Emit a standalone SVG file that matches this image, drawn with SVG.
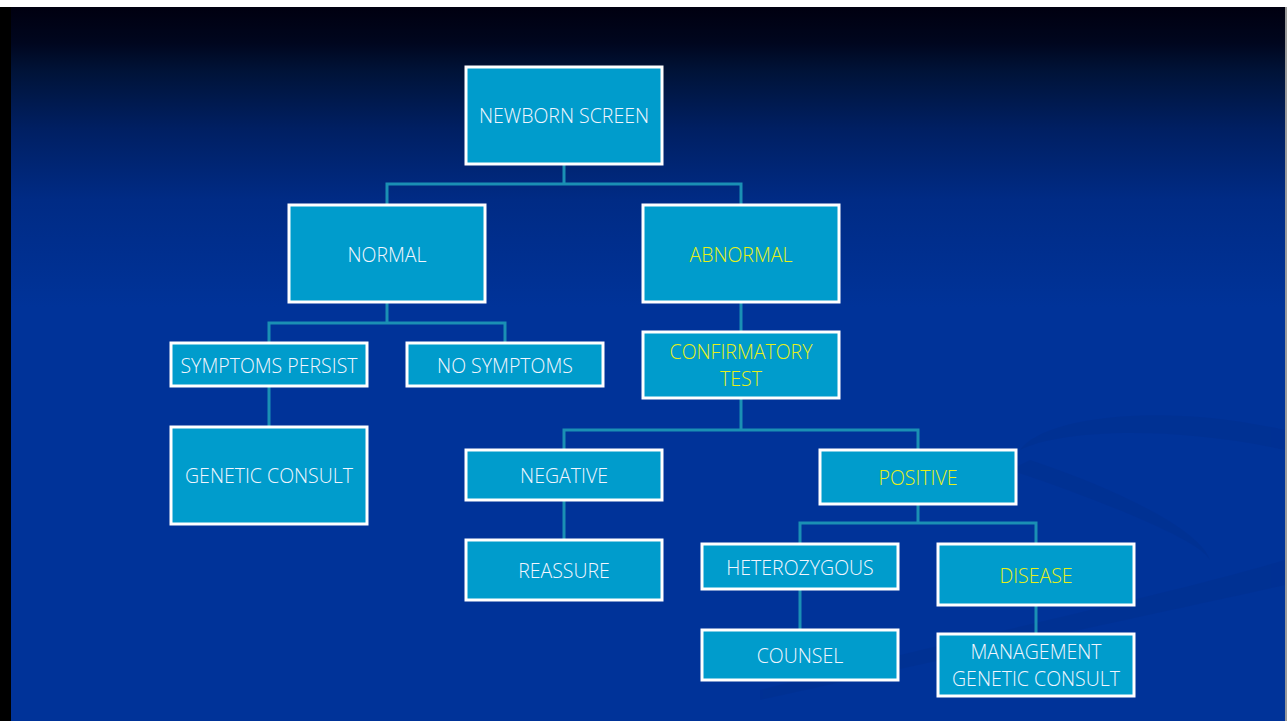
<svg xmlns="http://www.w3.org/2000/svg" width="1287" height="721" viewBox="0 0 1287 721">
<defs>
<linearGradient id="bg" x1="0" y1="7" x2="0" y2="721" gradientUnits="userSpaceOnUse">
<stop offset="0" stop-color="#000010"/>
<stop offset="0.05" stop-color="#00061e"/>
<stop offset="0.09" stop-color="#001338"/>
<stop offset="0.17" stop-color="#001f62"/>
<stop offset="0.27" stop-color="#002b85"/>
<stop offset="0.42" stop-color="#003399"/>
<stop offset="1" stop-color="#003399"/>
</linearGradient>
<style>
.box{fill:#009ccc;stroke:#ffffff;stroke-width:3}
.t{font-family:"Open Sans","Noto Sans","Liberation Sans",sans-serif;font-size:19.5px;font-weight:300;fill:#f2f6ff;text-anchor:middle;dominant-baseline:central}
.y{fill:#e8f018}
.c{fill:none;stroke:#1a90b4;stroke-width:3}
</style>
</defs>
<rect x="0" y="0" width="1287" height="721" fill="#000000"/>
<rect x="0" y="0" width="1287" height="7" fill="#ffffff"/>
<rect x="11" y="7" width="1274" height="714" fill="url(#bg)"/>
<rect x="1285" y="7" width="2" height="714" fill="#9a9a9a"/>
<g opacity="0.2" fill="#002a80">
<path d="M1285 560 C1150 600 950 640 760 690 L760 700 C960 655 1150 615 1285 585 Z"/>
<path d="M1285 430 C1150 400 1040 420 1020 450 C1060 430 1170 425 1285 450 Z"/>
<path d="M1010 470 C1100 500 1200 540 1210 560 C1200 530 1120 490 1030 460 Z"/>
</g>
<g id="connectors">
<path class="c" d="M564 164 V184 M387 205 V184 H741 V205"/>
<path class="c" d="M387 302 V323 M269 343 V323 H505 V343"/>
<path class="c" d="M269 386 V427"/>
<path class="c" d="M741 302 V332"/>
<path class="c" d="M741 398 V430 M564 450 V430 H918 V450"/>
<path class="c" d="M564 500 V540"/>
<path class="c" d="M918 504 V523 M800 544 V523 H1036 V544"/>
<path class="c" d="M800 589 V630"/>
<path class="c" d="M1036 605 V634"/>
</g>
<g id="newborn-screen"><rect class="box" x="466" y="67" width="196" height="97"/><text class="t" x="564" y="115">NEWBORN SCREEN</text></g>
<g id="normal"><rect class="box" x="289" y="205" width="196" height="97"/><text class="t" x="387" y="254">NORMAL</text></g>
<g id="abnormal"><rect class="box" x="643" y="205" width="196" height="97"/><text class="t y" x="741" y="254">ABNORMAL</text></g>
<g id="symptoms-persist"><rect class="box" x="171" y="343" width="196" height="43"/><text class="t" x="269" y="365">SYMPTOMS PERSIST</text></g>
<g id="no-symptoms"><rect class="box" x="407" y="343" width="196" height="43"/><text class="t" x="505" y="365">NO SYMPTOMS</text></g>
<g id="confirmatory-test"><rect class="box" x="643" y="332" width="196" height="66"/><text class="t y" x="741" y="351">CONFIRMATORY</text><text class="t y" x="741" y="378">TEST</text></g>
<g id="genetic-consult"><rect class="box" x="171" y="427" width="196" height="97"/><text class="t" x="269" y="475">GENETIC CONSULT</text></g>
<g id="negative"><rect class="box" x="466" y="450" width="196" height="50"/><text class="t" x="564" y="475">NEGATIVE</text></g>
<g id="positive"><rect class="box" x="820" y="450" width="196" height="54"/><text class="t y" x="918" y="477">POSITIVE</text></g>
<g id="reassure"><rect class="box" x="466" y="540" width="196" height="60"/><text class="t" x="564" y="570">REASSURE</text></g>
<g id="heterozygous"><rect class="box" x="702" y="544" width="196" height="45"/><text class="t" x="800" y="567">HETEROZYGOUS</text></g>
<g id="disease"><rect class="box" x="938" y="544" width="196" height="61"/><text class="t y" x="1036" y="575">DISEASE</text></g>
<g id="counsel"><rect class="box" x="702" y="630" width="196" height="50"/><text class="t" x="800" y="655">COUNSEL</text></g>
<g id="management"><rect class="box" x="938" y="634" width="196" height="62"/><text class="t" x="1036" y="651">MANAGEMENT</text><text class="t" x="1036" y="678">GENETIC CONSULT</text></g>
</svg>
